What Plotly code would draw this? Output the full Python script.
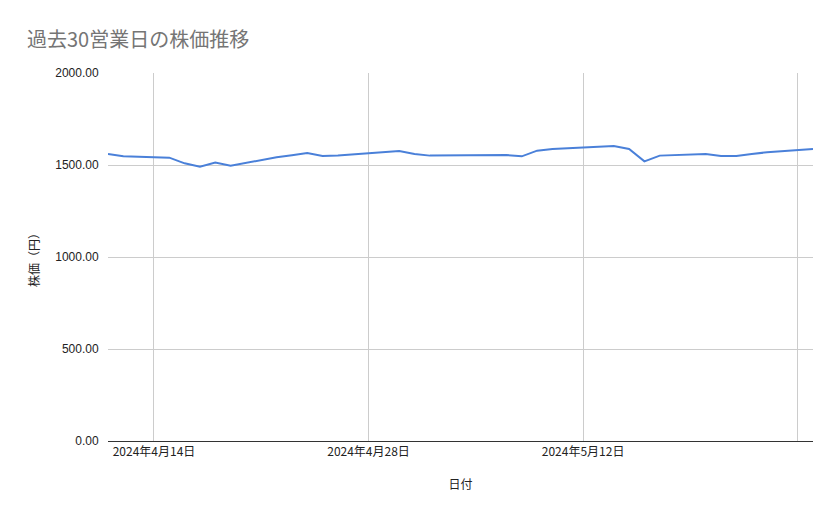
import plotly.graph_objects as go
import pandas as pd

# 過去30営業日 (祝日を除く)
dates = [
    "2024-04-11", "2024-04-12",
    "2024-04-15", "2024-04-16", "2024-04-17", "2024-04-18", "2024-04-19",
    "2024-04-22", "2024-04-23", "2024-04-24", "2024-04-25", "2024-04-26",
    "2024-04-30", "2024-05-01", "2024-05-02",
    "2024-05-07", "2024-05-08", "2024-05-09", "2024-05-10",
    "2024-05-13", "2024-05-14", "2024-05-15", "2024-05-16", "2024-05-17",
    "2024-05-20", "2024-05-21", "2024-05-22", "2024-05-23", "2024-05-24",
    "2024-05-27",
]
prices = [
    1560, 1547,
    1540, 1509, 1491, 1513, 1496,
    1542, 1553, 1565, 1549, 1551,
    1576, 1560, 1551,
    1554, 1547, 1578, 1587,
    1596, 1603, 1587, 1520, 1551,
    1560, 1549, 1549, 1560, 1569,
    1587,
]

tick_dates = ["2024-04-14", "2024-04-28", "2024-05-12", "2024-05-26"]
tick_labels = ["2024年4月14日", "2024年4月28日", "2024年5月12日", ""]

df = pd.DataFrame({"date": pd.to_datetime(dates), "price": prices})

cjk = "Noto Sans CJK JP, sans-serif"

fig = go.Figure()
fig.add_trace(go.Scatter(
    x=df["date"], y=df["price"],
    mode="lines",
    line=dict(color="#4a80d9", width=2),
    showlegend=False
))

# page body has an 8px margin, so the figure is drawn a bit smaller
fig.update_layout(
    width=823, height=503,
    margin=dict(l=100, r=18, t=65, b=70),
    title=dict(
        text="過去30営業日の株価推移",
        x=19 / 823, xanchor="left", y=1 - 32 / 503, yanchor="middle",
        font=dict(family=cjk, size=20, color="#757575")
    ),
    plot_bgcolor="white",
    paper_bgcolor="white",
    font=dict(family="Liberation Sans, Arial, sans-serif", size=12, color="#222222")
)

fig.update_xaxes(
    range=["2024-04-11", "2024-05-27"],
    tickmode="array",
    tickvals=tick_dates,
    ticktext=tick_labels,
    showgrid=True, gridcolor="#cccccc", gridwidth=1,
    showline=True, linecolor="#333333", linewidth=1,
    zeroline=False,
    ticks="",
    tickfont=dict(family=cjk, size=12, color="#222222"),
    title=dict(text="日付", font=dict(family=cjk, size=12, color="#222222"),
               standoff=22)
)

fig.update_yaxes(
    range=[0, 2000],
    dtick=500,
    tickformat=".2f",
    showgrid=True, gridcolor="#cccccc", gridwidth=1,
    zeroline=False,
    showline=False,
    ticks="outside", ticklen=6, tickcolor="white",
    tickfont=dict(size=12, color="#222222"),
    title=dict(text="株価（円）", font=dict(family=cjk, size=12, color="#222222"),
               standoff=13)
)

fig.write_html("out.html")
